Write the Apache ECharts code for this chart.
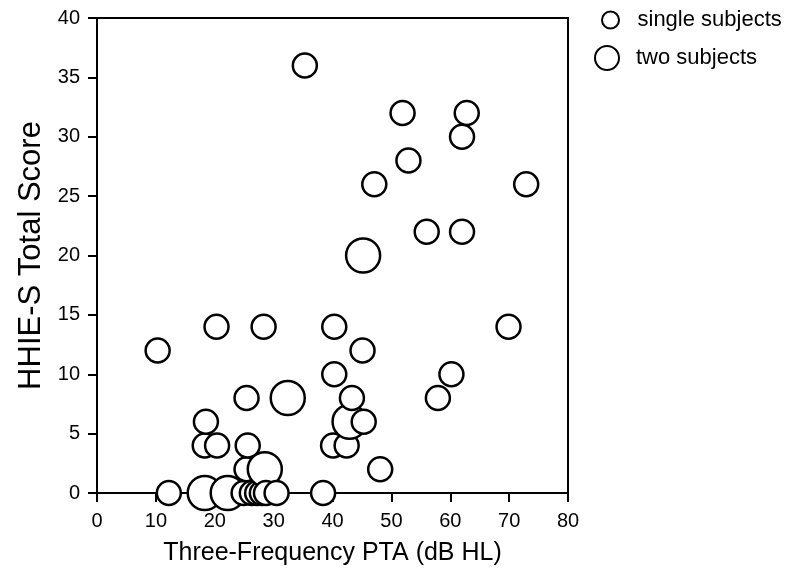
<!DOCTYPE html>
<html>
<head>
<meta charset="utf-8">
<script src="https://cdn.jsdelivr.net/npm/echarts@6/dist/echarts.min.js"></script>
<style>
html,body{margin:0;padding:0;background:#fff;}
#chart{width:786px;height:575px;}
</style>
</head>
<body>
<div id="chart"></div>
<script>
// Three-frequency PTA (dB HL)
const ptaValues = [35.3, 51.9, 62.8, 62, 52.9, 47.1, 72.9, 56, 62, 45.2,
  20.3, 28.3, 40.3, 69.9, 10.3, 45.1, 40.3, 60.2,
  25.4, 32.4, 43.3, 57.9, 18.5, 42.9, 45.3,
  18.3, 20.4, 25.6, 40.1, 42.4, 25.4, 28.5, 48.1,
  12.2, 18.3, 22.2, 24.9, 26.3, 27.2, 28.0, 28.7, 30.5, 38.4];
// HHIE-S total score
const scoreValues = [36, 32, 32, 30, 28, 26, 26, 22, 22, 20,
  14, 14, 14, 14, 12, 12, 10, 10,
  8, 8, 8, 8, 6, 6, 6,
  4, 4, 4, 4, 4, 2, 2, 2,
  0, 0, 0, 0, 0, 0, 0, 0, 0, 0];
// number of subjects at the point (1 = single, 2 = two)
const subjectCounts = [1, 1, 1, 1, 1, 1, 1, 1, 1, 2,
  1, 1, 1, 1, 1, 1, 1, 1,
  1, 2, 1, 1, 1, 2, 1,
  1, 1, 1, 1, 1, 1, 2, 1,
  1, 2, 2, 1, 1, 1, 1, 1, 1, 1];
const legendNames = ['single subjects', 'two subjects'];
const xTicks = {min: 0, max: 80, interval: 10};
const yTicks = {min: 0, max: 40, interval: 5};

const FONT = '"Liberation Sans", Arial, Helvetica, sans-serif';
const SMALL = 24, LARGE = 34;

// draw in order of x so right-hand circles overlap left-hand ones
const points = ptaValues.map((x, i) => [x, scoreValues[i], subjectCounts[i]])
  .sort((a, b) => a[0] - b[0] || b[1] - a[1]);

const circleStyle = {color: '#fff', borderColor: '#000', borderWidth: 2.5, opacity: 1};

const chart = echarts.init(document.getElementById('chart'), null, {renderer: 'canvas'});
chart.setOption({
  animation: false,
  backgroundColor: '#fff',
  grid: {left: 97, right: 218, top: 18, bottom: 82, show: true, borderColor: '#000', borderWidth: 2, backgroundColor: 'transparent'},
  legend: [
    {data: [{name: legendNames[0], icon: 'circle'}], left: 596, top: 4, itemWidth: 44, itemHeight: 17,
     textStyle: {fontFamily: FONT, fontSize: 22, color: '#000'}, selectedMode: false},
    {data: [{name: legendNames[1], icon: 'circle'}], left: 589, top: 40, itemWidth: 48, itemHeight: 24,
     textStyle: {fontFamily: FONT, fontSize: 22, color: '#000'}, selectedMode: false}
  ],
  xAxis: {
    type: 'value', min: xTicks.min, max: xTicks.max, interval: xTicks.interval,
    name: 'Three-Frequency PTA (dB HL)', nameLocation: 'middle', nameGap: 48,
    nameTextStyle: {fontFamily: FONT, fontSize: 25, color: '#000'},
    axisLine: {show: true, onZero: false, lineStyle: {color: '#000', width: 2}},
    axisTick: {show: true, length: 9, lineStyle: {color: '#000', width: 2}},
    axisLabel: {fontFamily: FONT, fontSize: 20, color: '#000', margin: 18},
    splitLine: {show: false}
  },
  yAxis: {
    type: 'value', min: yTicks.min, max: yTicks.max, interval: yTicks.interval,
    name: 'HHIE-S Total Score', nameLocation: 'middle', nameGap: 47, nameRotate: 90,
    nameTextStyle: {fontFamily: FONT, fontSize: 31, color: '#000'},
    axisLine: {show: true, onZero: false, lineStyle: {color: '#000', width: 2}},
    axisTick: {show: true, length: 9, lineStyle: {color: '#000', width: 2}},
    axisLabel: {fontFamily: FONT, fontSize: 20, color: '#000', margin: 17},
    splitLine: {show: false}
  },
  series: [
    {name: legendNames[0], type: 'scatter', symbol: 'circle', symbolSize: SMALL, data: [], itemStyle: circleStyle},
    {name: legendNames[1], type: 'scatter', symbol: 'circle', symbolSize: LARGE, data: [], itemStyle: circleStyle},
    {name: 'subjects', type: 'scatter', symbol: 'circle', clip: false, z: 3,
     symbolSize: (v) => v[2] === 2 ? LARGE : SMALL,
     itemStyle: circleStyle, data: points, emphasis: {disabled: true}}
  ]
});
</script>
</body>
</html>
